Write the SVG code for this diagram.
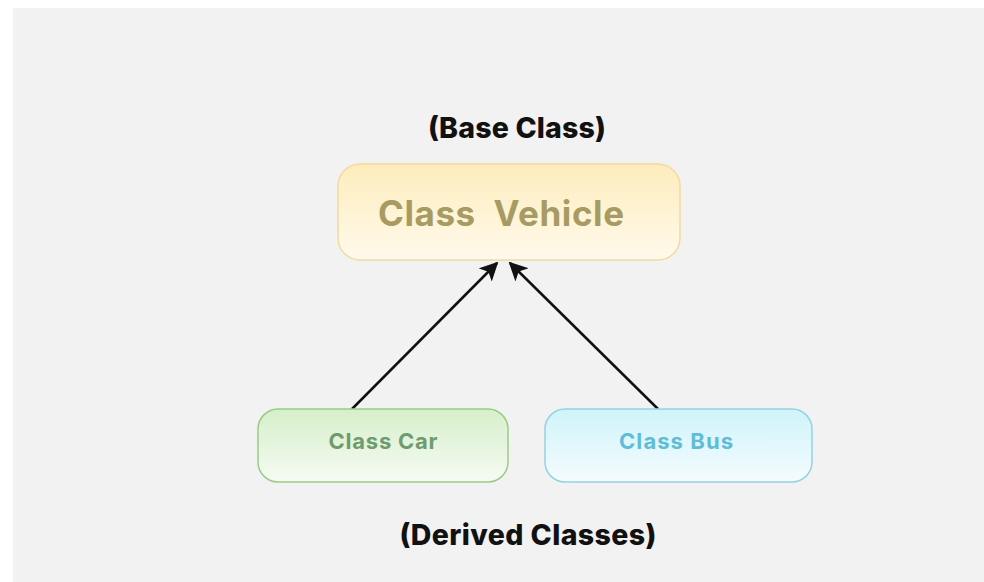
<svg xmlns="http://www.w3.org/2000/svg" width="984" height="582" viewBox="0 0 984 582">
  <style>
    .label { font-family: Inter, "Noto Sans", "Liberation Sans", sans-serif; font-weight: 800; fill: #111111; text-anchor: middle; }
    .title { font-family: Inter, "Noto Sans", "Liberation Sans", sans-serif; font-weight: 700; text-anchor: middle; }
    .edge { stroke: #111111; stroke-width: 2.5; fill: none; marker-end: url(#arrow); }
  </style>
  <defs>
    <linearGradient id="gYellow" x1="0" y1="0" x2="0" y2="1">
      <stop offset="0" stop-color="#fdecbc"/>
      <stop offset="1" stop-color="#fffaec"/>
    </linearGradient>
    <linearGradient id="gGreen" x1="0" y1="0" x2="0" y2="1">
      <stop offset="0" stop-color="#d6efca"/>
      <stop offset="1" stop-color="#f6fbf3"/>
    </linearGradient>
    <linearGradient id="gBlue" x1="0" y1="0" x2="0" y2="1">
      <stop offset="0" stop-color="#d0f3fa"/>
      <stop offset="1" stop-color="#f4fcfe"/>
    </linearGradient>
    <marker id="arrow" viewBox="0 0 10 10" refX="9" refY="5" markerWidth="7.5" markerHeight="7.5" markerUnits="strokeWidth" orient="auto">
      <path d="M0,0 L10,5 L0,10 L2.5,5 Z" fill="#111111"/>
    </marker>
  </defs>

  <!-- page background -->
  <rect x="0" y="0" width="984" height="582" fill="#ffffff"/>
  <rect x="13" y="8" width="971" height="574" fill="#f2f2f2"/>

  <text class="label" x="517" y="138" font-size="28.5" textLength="178" lengthAdjust="spacing">(Base Class)</text>
  <text class="label" x="528" y="545" font-size="28.5" textLength="257" lengthAdjust="spacing">(Derived Classes)</text>

  <g id="connectors">
    <line class="edge" x1="352" y1="409" x2="497" y2="263"/>
    <line class="edge" x1="658" y1="409" x2="510" y2="263"/>
  </g>

  <g id="vehicle">
    <rect x="338" y="164" width="342" height="96" rx="22" fill="url(#gYellow)" stroke="#f1dc9c" stroke-width="1.5"/>
    <text class="title" x="501" y="226" font-size="35" fill="#a89b62" xml:space="preserve" textLength="246" lengthAdjust="spacing">Class  Vehicle</text>
  </g>

  <g id="car">
    <rect x="258" y="409" width="250" height="73" rx="20" fill="url(#gGreen)" stroke="#9acb86" stroke-width="1.5"/>
    <text class="title" x="383" y="449" font-size="22" fill="#6e9c6e" textLength="109" lengthAdjust="spacing">Class Car</text>
  </g>

  <g id="bus">
    <rect x="545" y="409" width="267" height="73" rx="20" fill="url(#gBlue)" stroke="#95d2e2" stroke-width="1.5"/>
    <text class="title" x="676" y="449" font-size="22" fill="#5fbdd8" textLength="114" lengthAdjust="spacing">Class Bus</text>
  </g>
</svg>
